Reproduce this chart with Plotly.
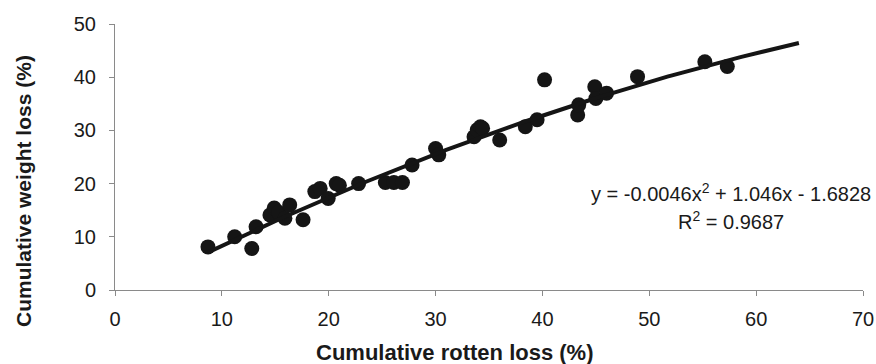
import numpy as np
import plotly.graph_objects as go

rotten_loss = [8.7, 11.2, 12.8, 13.2, 14.5, 14.9, 15.3, 15.9, 16.35, 17.6,
               18.7, 19.2, 19.95, 20.7, 21.0, 22.8, 25.3, 26.1, 26.9, 27.8,
               30.0, 30.3, 33.6, 33.9, 34.2, 34.4, 36.0, 38.4, 39.5, 40.2,
               43.3, 43.4, 44.9, 45.0, 46.0, 48.9, 55.2, 57.3]
weight_loss = [8.1, 10.0, 7.8, 11.9, 14.1, 15.4, 14.6, 13.5, 16.0, 13.2,
               18.5, 19.1, 17.2, 20.0, 19.7, 20.0, 20.2, 20.2, 20.2, 23.5,
               26.6, 25.4, 28.8, 30.1, 30.7, 30.4, 28.2, 30.7, 32.0, 39.5,
               32.9, 34.8, 38.2, 36.0, 37.0, 40.1, 42.9, 42.0]

# Polynomial trendline coefficients (as reported on the chart)
coef = [-0.0046, 1.046, -1.6828]
fit_range = [8.7, 64.0]
x_ticks = [0, 10, 20, 30, 40, 50, 60, 70]
y_ticks = [0, 10, 20, 30, 40, 50]

xf = np.linspace(fit_range[0], fit_range[1], 200)
yf = np.polyval(coef, xf)

fig = go.Figure()
fig.add_trace(go.Scatter(x=rotten_loss, y=weight_loss, mode="markers",
                         marker=dict(size=15, color="#151515"), showlegend=False))
fig.add_trace(go.Scatter(x=xf, y=yf, mode="lines",
                         line=dict(color="#151515", width=4), showlegend=False))

font_family = "Liberation Sans, Arial, sans-serif"
axis_common = dict(showgrid=False, zeroline=False, showline=True,
                   linecolor="#8a8a8a", linewidth=1, ticks="outside",
                   tickcolor="#8a8a8a", ticklen=5, tickwidth=1, automargin=False,
                   ticklabeloverflow="allow",
                   tickfont=dict(family=font_family, size=20, color="#1a1a1a"))

W, H = 876, 364
L, R, T, B = 115, 13, 24, 74

def px_x(p):  # reference pixel -> paper fraction
    return (p - L) / (W - L - R)

def px_y(p):
    return (H - B - p) / (H - T - B)

ann_font = dict(size=20, family=font_family, color="#1a1a1a")

fig.update_layout(
    width=W, height=H,
    margin=dict(l=L, r=R, t=T, b=B),
    paper_bgcolor="white", plot_bgcolor="white",
    font=dict(family=font_family, color="#1a1a1a"),
    xaxis=dict(range=[0, 70], tickvals=x_ticks, ticklabelstandoff=6, **axis_common),
    yaxis=dict(range=[0, 50], tickvals=y_ticks, ticklabelstandoff=9, **axis_common),
    annotations=[
        dict(x=57.6, y=18.4, xref="x", yref="y", showarrow=False,
             xanchor="center", yanchor="middle",
             text="y = -0.0046x<sup>2</sup> + 1.046x - 1.6828", font=ann_font),
        dict(x=57.6, y=13.1, xref="x", yref="y", showarrow=False,
             xanchor="center", yanchor="middle",
             text="R<sup>2</sup> = 0.9687", font=ann_font),
        # axis titles placed as in the reference (not centred on the plot)
        dict(x=px_x(454), y=px_y(352), xref="paper", yref="paper", showarrow=False,
             xanchor="center", yanchor="middle",
             text="<b>Cumulative rotten loss (%)</b>",
             font=dict(size=22, family=font_family, color="#1a1a1a")),
        dict(x=px_x(23), y=px_y(191), xref="paper", yref="paper", showarrow=False,
             xanchor="center", yanchor="middle",
             textangle=-90, text="<b>Cumulative weight loss (%)</b>",
             font=dict(size=21, family=font_family, color="#1a1a1a")),
    ],
)

fig.write_html(
    "out.html",
    config={"displayModeBar": False},
    post_script="document.body.style.margin='0';document.body.style.overflow='hidden';",
)
